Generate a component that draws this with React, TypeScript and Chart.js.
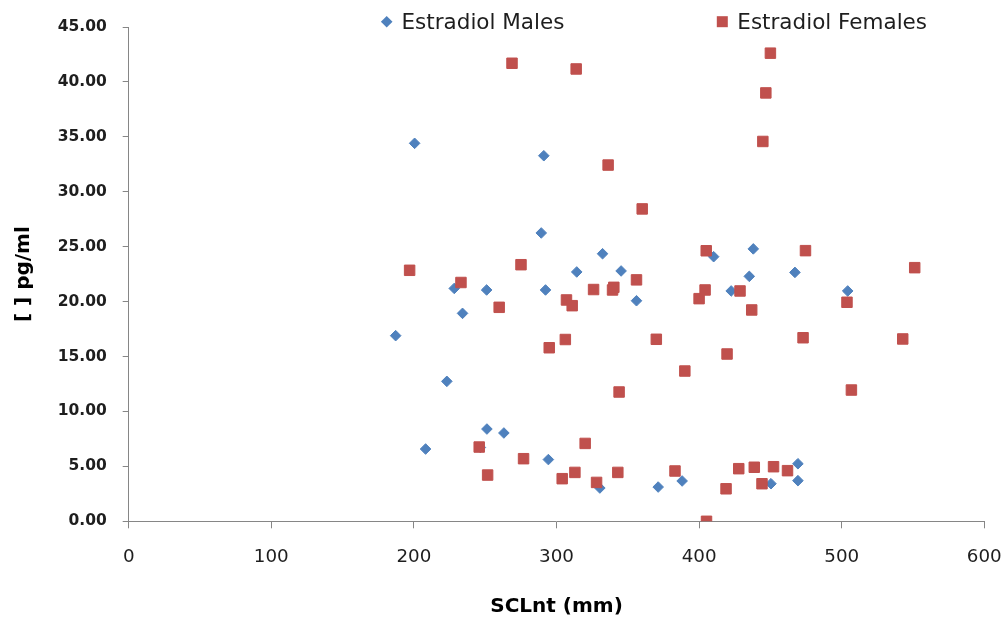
import React, { useEffect, useRef } from "react";
import { Chart, registerables } from "chart.js";

Chart.register(...registerables);

// ---- Data ----
const maleX = [187.2, 200.5, 208.2, 223.1, 228.3, 234.1, 246.6, 251.0, 251.2, 263.1, 289.3, 291.1, 292.3, 294.3, 314.2, 330.4, 332.3, 345.3, 356.1, 371.3, 388.1, 410.2, 422.5, 435.2, 438.0, 450.4, 467.2, 469.3, 469.3, 504.2];
const maleY = [16.9, 34.41, 6.58, 12.74, 21.2, 18.93, 6.72, 21.06, 8.4, 8.04, 26.25, 33.28, 21.06, 5.62, 22.7, 3.03, 24.36, 22.79, 20.08, 3.12, 3.67, 24.09, 20.97, 22.3, 24.8, 3.42, 22.66, 5.24, 3.7, 20.97];

const femaleX = [197.0, 233.0, 245.8, 251.7, 259.8, 268.8, 275.1, 276.9, 294.9, 304.0, 306.2, 307.0, 311.0, 312.9, 313.8, 320.1, 326.0, 328.1, 336.2, 339.3, 340.2, 343.0, 343.9, 356.1, 360.1, 370.0, 383.1, 390.0, 400.0, 404.2, 405.0, 405.2, 418.9, 419.6, 427.8, 428.7, 436.9, 438.7, 444.1, 444.7, 446.8, 450.0, 452.2, 462.0, 472.9, 474.6, 503.7, 506.8, 542.8, 551.2];
const femaleY = [22.85, 21.74, 6.76, 4.21, 19.48, 41.7, 23.36, 5.7, 15.8, 3.88, 16.55, 20.15, 19.63, 4.45, 41.18, 7.09, 21.1, 3.54, 32.43, 21.06, 21.3, 4.45, 11.77, 21.98, 28.44, 16.57, 4.58, 13.68, 20.27, 21.06, 24.63, 0.0, 2.96, 15.23, 4.79, 20.97, 19.24, 4.92, 3.42, 34.58, 39.0, 42.62, 4.97, 4.61, 16.71, 24.64, 19.94, 11.95, 16.6, 23.09];

const seriesNames = ["Estradiol Males", "Estradiol Females"];
const xTitle = "SCLnt (mm)";
const yTitle = "[ ] pg/ml";
const xMin = 0, xMax = 600, xStep = 100;
const yMin = 0, yMax = 45, yStep = 5;

const BLUE = "#4F81BD";
const RED = "#C0504D";
const AXIS = "#868686";
const FONT = "'DejaVu Sans', sans-serif";

const legendPlugin = {
  id: "customLegend",
  afterDraw(chart: any) {
    const ctx = chart.ctx;
    ctx.save();
    ctx.font = `21.5px ${FONT}`;
    ctx.textBaseline = "alphabetic";
    ctx.textAlign = "left";
    // males marker (diamond)
    const mx = 386.7, my = 21.7, r = 5.8;
    ctx.beginPath();
    ctx.moveTo(mx - r, my);
    ctx.lineTo(mx, my - r);
    ctx.lineTo(mx + r, my);
    ctx.lineTo(mx, my + r);
    ctx.closePath();
    ctx.fillStyle = BLUE;
    ctx.fill();
    ctx.fillStyle = "#1e1e1e";
    ctx.fillText(seriesNames[0], 401.5, 29.3);
    // females marker (square)
    const fx = 722.3, fy = 21.7, s = 11;
    ctx.fillStyle = RED;
    ctx.fillRect(fx - s / 2, fy - s / 2, s, s);
    ctx.fillStyle = "#1e1e1e";
    ctx.fillText(seriesNames[1], 737.3, 29.3);
    ctx.restore();
  },
};

export default function App() {
  const canvasRef = useRef<HTMLCanvasElement | null>(null);

  useEffect(() => {
    if (!canvasRef.current) return;
    const males = maleX.map((x, i) => ({ x, y: maleY[i] }));
    const females = femaleX.map((x, i) => ({ x, y: femaleY[i] }));

    const chart = new Chart(canvasRef.current, {
      type: "scatter",
      data: {
        datasets: [
          {
            label: seriesNames[0],
            data: males,
            pointStyle: "rectRot",
            pointRadius: 5.3,
            pointHoverRadius: 5.3,
            borderWidth: 1,
            backgroundColor: BLUE,
            borderColor: BLUE,
            order: 1,
          },
          {
            label: seriesNames[1],
            data: females,
            pointStyle: "rect",
            pointRadius: 7.4,
            pointHoverRadius: 7.4,
            borderWidth: 1,
            backgroundColor: RED,
            borderColor: RED,
            order: 0,
          },
        ],
      },
      options: {
        animation: false,
        responsive: false,
        maintainAspectRatio: false,
        layout: { padding: { top: 27, right: 20.7, left: 0, bottom: 0 } },
        plugins: {
          legend: { display: false },
          tooltip: { enabled: false },
        },
        scales: {
          x: {
            type: "linear",
            min: xMin,
            max: xMax,
            afterFit: (scale: any) => {
              scale.height = 104.7;
              scale.paddingLeft = 0;
              scale.paddingRight = 0;
            },
            ticks: {
              stepSize: xStep,
              padding: 18,
              color: "#1e1e1e",
              font: { family: FONT, size: 18.3 },
              maxRotation: 0,
            },
            grid: {
              display: true,
              drawOnChartArea: false,
              drawTicks: true,
              tickLength: 7,
              color: AXIS,
            },
            border: { display: true, color: AXIS, width: 1 },
            title: {
              display: true,
              text: xTitle,
              color: "#000",
              font: { family: FONT, size: 20, weight: "bold" },
              padding: { top: 0, bottom: 7 },
            },
          },
          y: {
            type: "linear",
            min: yMin,
            max: yMax,
            afterFit: (scale: any) => {
              scale.width = 128.7;
            },
            ticks: {
              stepSize: yStep,
              padding: 16,
              color: "#1e1e1e",
              font: { family: FONT, size: 15.5, weight: "bold" },
              callback: (v: any) => Number(v).toFixed(2),
            },
            grid: {
              display: true,
              drawOnChartArea: false,
              drawTicks: true,
              tickLength: 6,
              color: AXIS,
            },
            border: { display: true, color: AXIS, width: 1 },
            title: {
              display: true,
              text: yTitle,
              color: "#000",
              font: { family: FONT, size: 20, weight: "bold" },
              padding: { top: 12, bottom: 0 },
            },
          },
        },
      },
      plugins: [legendPlugin],
    });

    return () => chart.destroy();
  }, []);

  return (
    <div style={{ position: "absolute", left: 0, top: 0, width: 1005, height: 626, background: "#fff" }}>
      <canvas ref={canvasRef} width={1005} height={626} style={{ width: 1005, height: 626, display: "block" }} />
    </div>
  );
}
